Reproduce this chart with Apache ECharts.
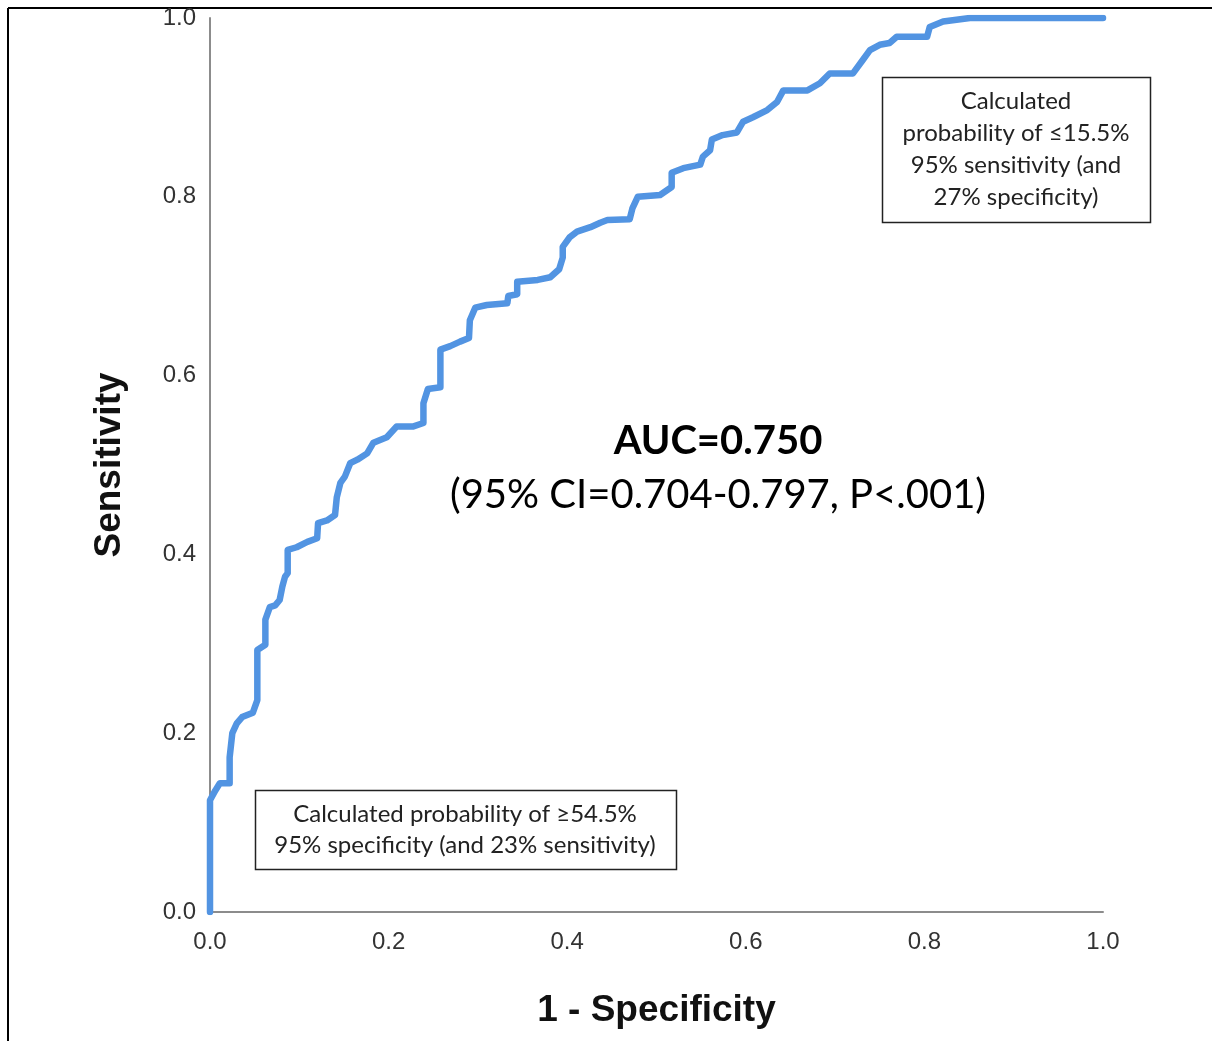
<!DOCTYPE html>
<html><head><meta charset="utf-8">
<script src="https://cdn.jsdelivr.net/npm/echarts@6/dist/echarts.min.js"></script>
<style>html,body{margin:0;padding:0;background:#fff}#c{width:1212px;height:1041px}</style>
</head><body><div id="c"></div>
<script>
const fpr = [0,0,0.006,0.011,0.022,0.022,0.025,0.030,0.036,0.048,0.053,0.053,0.062,0.062,0.067,0.073,0.078,0.081,0.084,0.087,0.087,0.097,0.109,0.120,0.121,0.131,0.140,0.142,0.146,0.151,0.157,0.165,0.176,0.183,0.198,0.209,0.227,0.239,0.239,0.244,0.258,0.258,0.269,0.280,0.290,0.291,0.297,0.310,0.333,0.334,0.344,0.344,0.367,0.381,0.391,0.395,0.395,0.403,0.411,0.426,0.437,0.445,0.470,0.473,0.479,0.504,0.517,0.517,0.530,0.549,0.552,0.560,0.562,0.574,0.590,0.597,0.608,0.624,0.635,0.642,0.669,0.683,0.694,0.720,0.731,0.739,0.750,0.761,0.769,0.803,0.806,0.821,0.851,1.0];
const tpr = [0,0.125,0.136,0.144,0.144,0.173,0.200,0.211,0.218,0.223,0.237,0.293,0.299,0.327,0.341,0.343,0.349,0.364,0.375,0.379,0.405,0.408,0.414,0.418,0.435,0.438,0.444,0.464,0.480,0.487,0.502,0.506,0.513,0.525,0.531,0.543,0.543,0.547,0.569,0.585,0.587,0.629,0.633,0.638,0.642,0.662,0.676,0.679,0.681,0.689,0.691,0.705,0.707,0.710,0.719,0.732,0.744,0.755,0.761,0.766,0.771,0.774,0.775,0.787,0.800,0.802,0.811,0.827,0.832,0.836,0.845,0.852,0.864,0.869,0.872,0.884,0.889,0.897,0.906,0.919,0.919,0.927,0.938,0.938,0.953,0.964,0.970,0.972,0.979,0.979,0.990,0.996,1.0,1.0];
const xTicks = [0,0.2,0.4,0.6,0.8,1.0];
const yTicks = [0,0.2,0.4,0.6,0.8,1.0];
const xTitle = '1 - Specificity';
const yTitle = 'Sensitivity';
const aucText = 'AUC=0.750';
const ciText = '(95% CI=0.704-0.797, P<.001)';
const box1Text = 'Calculated\nprobability of \u226415.5%\n95% sensitivity (and\n27% specificity)';
const box2Text = 'Calculated probability of \u226554.5%\n95% specificity (and 23% sensitivity)';

const data = fpr.map((x,i)=>[x,tpr[i]]);
const chart = echarts.init(document.getElementById('c'), null, {renderer:'canvas'});
const axisCommon = {
  type:'value', min:0, max:1, interval:0.2,
  axisLine:{show:true, lineStyle:{color:'#8c8c8c', width:2}},
  axisTick:{show:false}, splitLine:{show:false},
  axisLabel:{color:'#333', fontFamily:'Liberation Sans, Arial', fontSize:24, formatter:v=>v.toFixed(1)},
  nameTextStyle:{color:'#111', fontFamily:'Liberation Sans, Arial', fontWeight:'bold', fontSize:37}
};
chart.setOption({
  animation:false,
  backgroundColor:'#fff',
  grid:{left:210, top:18, right:109, bottom:129, containLabel:false},
  xAxis:Object.assign({}, axisCommon, {name:xTitle, nameLocation:'middle', nameGap:80, axisLabel:Object.assign({}, axisCommon.axisLabel, {margin:18})}),
  yAxis:Object.assign({}, axisCommon, {name:yTitle, nameLocation:'middle', nameGap:82, nameRotate:90, axisLabel:Object.assign({}, axisCommon.axisLabel, {margin:14, padding:[10,0,0,0]})}),
  series:[{type:'line', data:data, showSymbol:false, symbol:'none',
    lineStyle:{color:'#5294e2', width:6.5, join:'round', cap:'round'}, z:3}],
  graphic:[
    {type:'line', shape:{x1:8,y1:8,x2:1212,y2:8}, style:{stroke:'#000', lineWidth:2}},
    {type:'line', shape:{x1:8,y1:8,x2:8,y2:1041}, style:{stroke:'#000', lineWidth:2}},
    {type:'text', x:718, y:441, style:{text:aucText, fontFamily:'Lato, Open Sans', fontWeight:'bold', fontSize:40, fill:'#000', align:'center', verticalAlign:'middle'}},
    {type:'text', x:718, y:495, style:{text:ciText, fontFamily:'Lato, Open Sans', fontSize:40, fill:'#000', align:'center', verticalAlign:'middle'}},
    {type:'rect', shape:{x:882.5,y:77.5,width:268,height:145}, style:{fill:'#fff', stroke:'#222', lineWidth:1.5}},
    {type:'text', x:1016, y:149, style:{text:box1Text, fontFamily:'Lato, Open Sans', fontSize:24, lineHeight:32, fill:'#222', align:'center', verticalAlign:'middle'}},
    {type:'rect', shape:{x:255.5,y:790.5,width:421,height:79}, style:{fill:'#fff', stroke:'#222', lineWidth:1.5}},
    {type:'text', x:465, y:830, style:{text:box2Text, fontFamily:'Lato, Open Sans', fontSize:24, lineHeight:31, fill:'#222', align:'center', verticalAlign:'middle'}}
  ]
});
</script></body></html>
